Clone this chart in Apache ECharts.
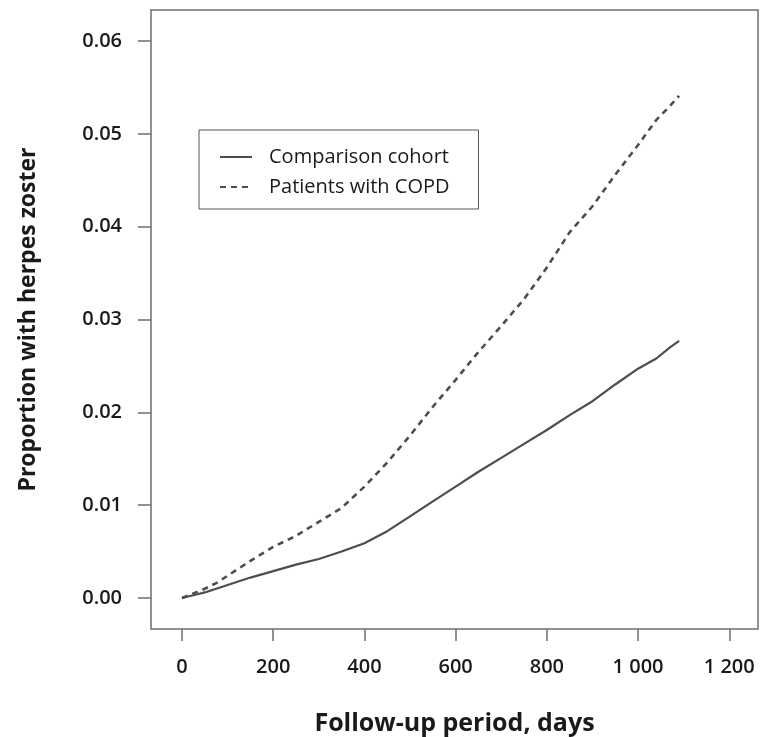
<!DOCTYPE html>
<html>
<head>
<meta charset="utf-8">
<script src="https://cdn.jsdelivr.net/npm/echarts@6/dist/echarts.min.js"></script>
<style>
  html, body { margin: 0; padding: 0; background: #ffffff; }
  #chart { width: 760px; height: 737px; }
</style>
</head>
<body>
<div id="chart"></div>
<script>
// Cumulative proportion with herpes zoster over follow-up
const followUpDays = [0, 25, 50, 75, 100, 150, 200, 250, 300, 350, 400, 450, 500, 550, 600, 650, 700, 750, 800, 850, 900, 950, 1000, 1040, 1070, 1090];
const comparisonCohort = [0, 0.0003, 0.0006, 0.0010, 0.0014, 0.0022, 0.0029, 0.0036, 0.0042, 0.0050, 0.0059, 0.0072, 0.0088, 0.0104, 0.0120, 0.0136, 0.0151, 0.0166, 0.0181, 0.0197, 0.0212, 0.0230, 0.0247, 0.0258, 0.0270, 0.0277];
const copdPatients = [0, 0.0005, 0.0010, 0.0016, 0.0024, 0.0040, 0.0055, 0.0067, 0.0082, 0.0097, 0.0120, 0.0146, 0.0175, 0.0206, 0.0235, 0.0265, 0.0293, 0.0322, 0.0356, 0.0394, 0.0422, 0.0456, 0.0488, 0.0515, 0.0530, 0.0541];

const xTicks = [0, 200, 400, 600, 800, 1000, 1200];
const yTicks = [0, 0.01, 0.02, 0.03, 0.04, 0.05, 0.06];
const seriesNames = ['Comparison cohort', 'Patients with COPD'];

const pairs = (xs, ys) => xs.map((x, i) => [x, ys[i]]);
const lineColor = '#4d4d4d';
const frameColor = '#6e6e6e';
const textColor = '#1a1a1a';
const fontFamily = '"Open Sans", "Noto Sans", sans-serif';

const chart = echarts.init(document.getElementById('chart'), null, { renderer: 'canvas' });
chart.setOption({
  backgroundColor: '#ffffff',
  animation: false,
  grid: {
    left: 151, top: 10, right: 2, bottom: 108,
    outerBoundsMode: 'none',
    containLabel: false,
    show: true, borderColor: frameColor, borderWidth: 1.5, backgroundColor: 'transparent'
  },
  legend: {
    left: 199, top: 130,
    orient: 'vertical',
    data: seriesNames,
    borderColor: '#555555', borderWidth: 1,
    padding: [17, 29, 12, 20],
    itemGap: 10,
    itemWidth: 32, itemHeight: 20,
    itemStyle: { color: 'transparent', borderWidth: 0, opacity: 0 },
    textStyle: { fontFamily: fontFamily, fontSize: 20, color: textColor, padding: [0, 0, 0, 12] }
  },
  xAxis: {
    type: 'value',
    min: -68, max: 1263,
    name: 'Follow-up period, days',
    nameLocation: 'middle',
    nameGap: 82,
    nameTextStyle: { fontFamily: fontFamily, fontSize: 25, fontWeight: 'bold', color: textColor },
    axisLine: { show: false, onZero: false },
    splitLine: { show: false },
    axisTick: { show: true, inside: false, length: 12, customValues: xTicks, lineStyle: { color: frameColor, width: 1.5 } },
    axisLabel: {
      customValues: xTicks,
      margin: 28,
      fontFamily: fontFamily, fontSize: 20, fontWeight: 600, color: textColor,
      formatter: v => (v >= 1000 ? Math.floor(v / 1000) + ' ' + String(v % 1000).padStart(3, '0') : String(v))
    }
  },
  yAxis: {
    type: 'value',
    min: -0.00334, max: 0.06334,
    name: 'Proportion with herpes zoster',
    nameLocation: 'middle',
    nameGap: 111,
    nameTextStyle: { fontFamily: fontFamily, fontSize: 23, fontWeight: 'bold', color: textColor },
    axisLine: { show: false, onZero: false },
    splitLine: { show: false },
    axisTick: { show: true, inside: false, length: 13, customValues: yTicks, lineStyle: { color: frameColor, width: 1.5 } },
    axisLabel: {
      customValues: yTicks,
      margin: 29,
      fontFamily: fontFamily, fontSize: 20, fontWeight: 600, color: textColor,
      formatter: v => v.toFixed(2)
    }
  },
  series: [
    {
      name: seriesNames[0],
      type: 'line',
      data: pairs(followUpDays, comparisonCohort),
      showSymbol: false,
      symbol: 'none',
      lineStyle: { color: lineColor, width: 2.2 },
      itemStyle: { color: lineColor }
    },
    {
      name: seriesNames[1],
      type: 'line',
      data: pairs(followUpDays, copdPatients),
      showSymbol: false,
      symbol: 'none',
      lineStyle: { color: lineColor, width: 2.6, type: [6, 5] },
      itemStyle: { color: lineColor }
    }
  ]
});
</script>
</body>
</html>
